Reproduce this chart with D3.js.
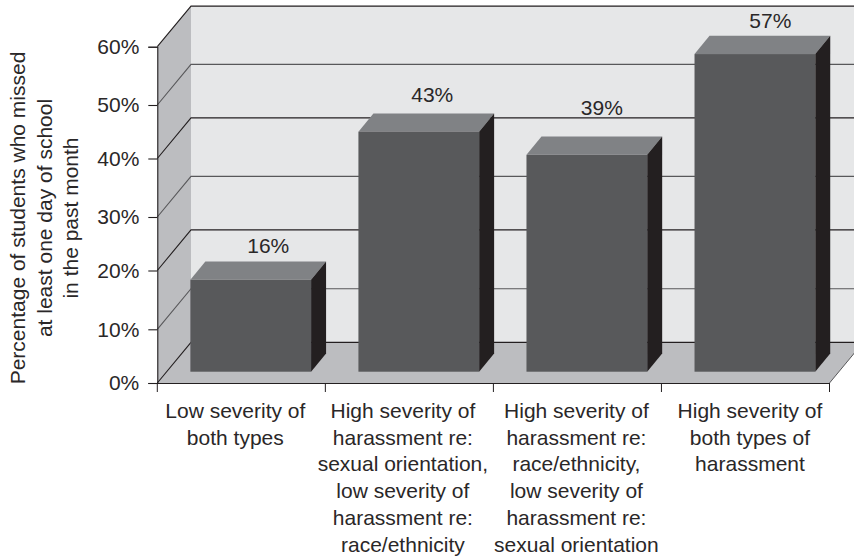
<!DOCTYPE html>
<html>
<head>
<meta charset="utf-8">
<style>
  html, body { margin: 0; padding: 0; background: #fff; }
  svg { display: block; }
  text { font-family: "Liberation Sans", Arial, sans-serif; fill: #2a2728; }
</style>
</head>
<body>
<svg width="854" height="558"></svg>
<script src="https://cdn.jsdelivr.net/npm/d3@7/dist/d3.min.js"></script>
<script>
const categories = ['both-low', 'orientation-high', 'race-high', 'both-high'];
// bar heights, the printed labels are rounded
const barValues = [16.5, 42.9, 38.7, 56.8];
const barLabels = ['16%', '43%', '39%', '57%'];
const yTicks = [0, 10, 20, 30, 40, 50, 60];
const categoryLines = [
  ['Low severity of', 'both types'],
  ['High severity of', 'harassment re:', 'sexual orientation,', 'low severity of', 'harassment re:', 'race/ethnicity'],
  ['High severity of', 'harassment re:', 'race/ethnicity,', 'low severity of', 'harassment re:', 'sexual orientation'],
  ['High severity of', 'both types of', 'harassment']
];
const yTitleLines = ['Percentage of students who missed', 'at least one day of school', 'in the past month'];

const svg = d3.select('svg');

const x = d3.scaleBand().domain(categories).range([157.3, 829.5]);
// the ticks in the original are not evenly spaced, so the scale is piecewise
const y = d3.scaleLinear().domain(yTicks).range([383, 329.3, 270.5, 217, 158.5, 105, 46.7]);

// depth of the fake 3d box, and how far the bars stand in from the front edge
const depthX = 33.7, depthY = 40.6;
const barShiftX = 9.4, barShiftY = 11.3;
const barDepthX = 15, barDepthY = 18.3;
const barWidth = 120.7;

// label nudges, the original labels are placed by hand
const valueDx = [17.5, 13.5, 15, 15.5];
const valueDy = [27, 30, 40, 26];
const catDx = [-6, -6.5, -1, 4.5];

const x0 = x.range()[0], x1 = x.range()[1];
const y0 = y(0), yTop = y(60);

// walls
svg.append('polygon') // back wall
  .attr('points', [[x0 + depthX, yTop - depthY], [854, yTop - depthY], [854, y0 - depthY], [x0 + depthX, y0 - depthY]].join(' '))
  .attr('fill', '#e6e7e8');
svg.append('polygon') // left wall
  .attr('points', [[x0, yTop], [x0 + depthX, yTop - depthY], [x0 + depthX, y0 - depthY], [x0, y0]].join(' '))
  .attr('fill', '#bcbdc0');
svg.append('polygon') // floor
  .attr('points', [[x0, y0], [x0 + depthX, y0 - depthY], [x1 + depthX, y0 - depthY], [x1, y0]].join(' '))
  .attr('fill', '#bcbdc0');

// gridlines, wall part and back part
const grid = svg.append('g').attr('fill', 'none');
grid.selectAll('path')
  .data(yTicks)
  .enter()
  .append('path')
  .attr('d', d => `M${x0},${y(d)}L${x0 + depthX},${y(d) - depthY}L${d === 0 ? x1 + depthX : 854},${y(d) - depthY}`)
  .attr('stroke', (d, i) => i % 2 ? '#58585a' : '#231f20')
  .attr('stroke-width', 1.1);
svg.append('path') // floor right edge
  .attr('d', `M${x1},${y0}L${x1 + depthX},${y0 - depthY}`)
  .attr('stroke', '#58585a');

// bars
const bars = svg.selectAll('.bar')
  .data(categories)
  .enter()
  .append('g')
  .classed('bar', true)
  .attr('transform', d => `translate(${x(d) + (x.bandwidth() - barWidth) / 2 + barShiftX},${-barShiftY})`);

const barTop = i => y(barValues[i]);

bars.append('polygon') // top face
  .attr('points', (d, i) => [[0, barTop(i)], [barDepthX, barTop(i) - barDepthY], [barWidth + barDepthX, barTop(i) - barDepthY], [barWidth, barTop(i)]].join(' '))
  .attr('fill', '#808285');
bars.append('polygon') // side face
  .attr('points', (d, i) => [[barWidth, barTop(i)], [barWidth + barDepthX, barTop(i) - barDepthY], [barWidth + barDepthX, y0 - barDepthY], [barWidth, y0]].join(' '))
  .attr('fill', '#231f20');
bars.append('rect') // front face
  .attr('x', 0)
  .attr('y', (d, i) => barTop(i))
  .attr('width', barWidth)
  .attr('height', (d, i) => y0 - barTop(i))
  .attr('fill', '#58595b');
bars.append('text')
  .attr('x', (d, i) => barWidth / 2 + valueDx[i])
  .attr('y', (d, i) => barTop(i) - valueDy[i])
  .attr('text-anchor', 'middle')
  .attr('font-size', 21)
  .text((d, i) => barLabels[i]);

// axes
const yAxis = svg.append('g')
  .attr('transform', `translate(${x0},0)`)
  .call(d3.axisLeft(y).tickValues(yTicks).tickSize(9).tickPadding(9).tickFormat(d => d + '%'));
const xAxis = svg.append('g')
  .attr('transform', `translate(0,${y0})`)
  .call(d3.axisBottom(x).tickSize(0).tickFormat(''));
yAxis.selectAll('text').attr('font-size', 21).style('font-family', '"Liberation Sans"');
svg.selectAll('.domain').attr('stroke', '#231f20').attr('stroke-width', 1.1);
svg.selectAll('.tick line').attr('stroke', '#231f20').attr('stroke-width', 1.1);

// ticks between the categories
xAxis.selectAll('.edge')
  .data(d3.range(categories.length + 1))
  .enter()
  .append('line')
  .attr('x1', i => x0 + i * x.step())
  .attr('x2', i => x0 + i * x.step())
  .attr('y2', 9)
  .attr('stroke', '#231f20');

// category labels
const catText = svg.selectAll('.cat')
  .data(categories)
  .enter()
  .append('text')
  .classed('cat', true)
  .attr('text-anchor', 'middle')
  .attr('font-size', 21);
catText.each(function (d, i) {
  d3.select(this).selectAll('tspan')
    .data(categoryLines[i])
    .enter()
    .append('tspan')
    .attr('x', x(d) + x.bandwidth() / 2 + catDx[i])
    .attr('y', (l, j) => 418 + j * 26.7)
    .text(l => l);
});

// y title
const yTitle = svg.append('text')
  .attr('transform', 'translate(0,218) rotate(-90)')
  .attr('text-anchor', 'middle')
  .attr('font-size', 21);
yTitle.selectAll('tspan')
  .data(yTitleLines)
  .enter()
  .append('tspan')
  .attr('x', 0)
  .attr('y', (l, j) => 25 + j * 26.5)
  .text(l => l);
</script>
</body>
</html>
